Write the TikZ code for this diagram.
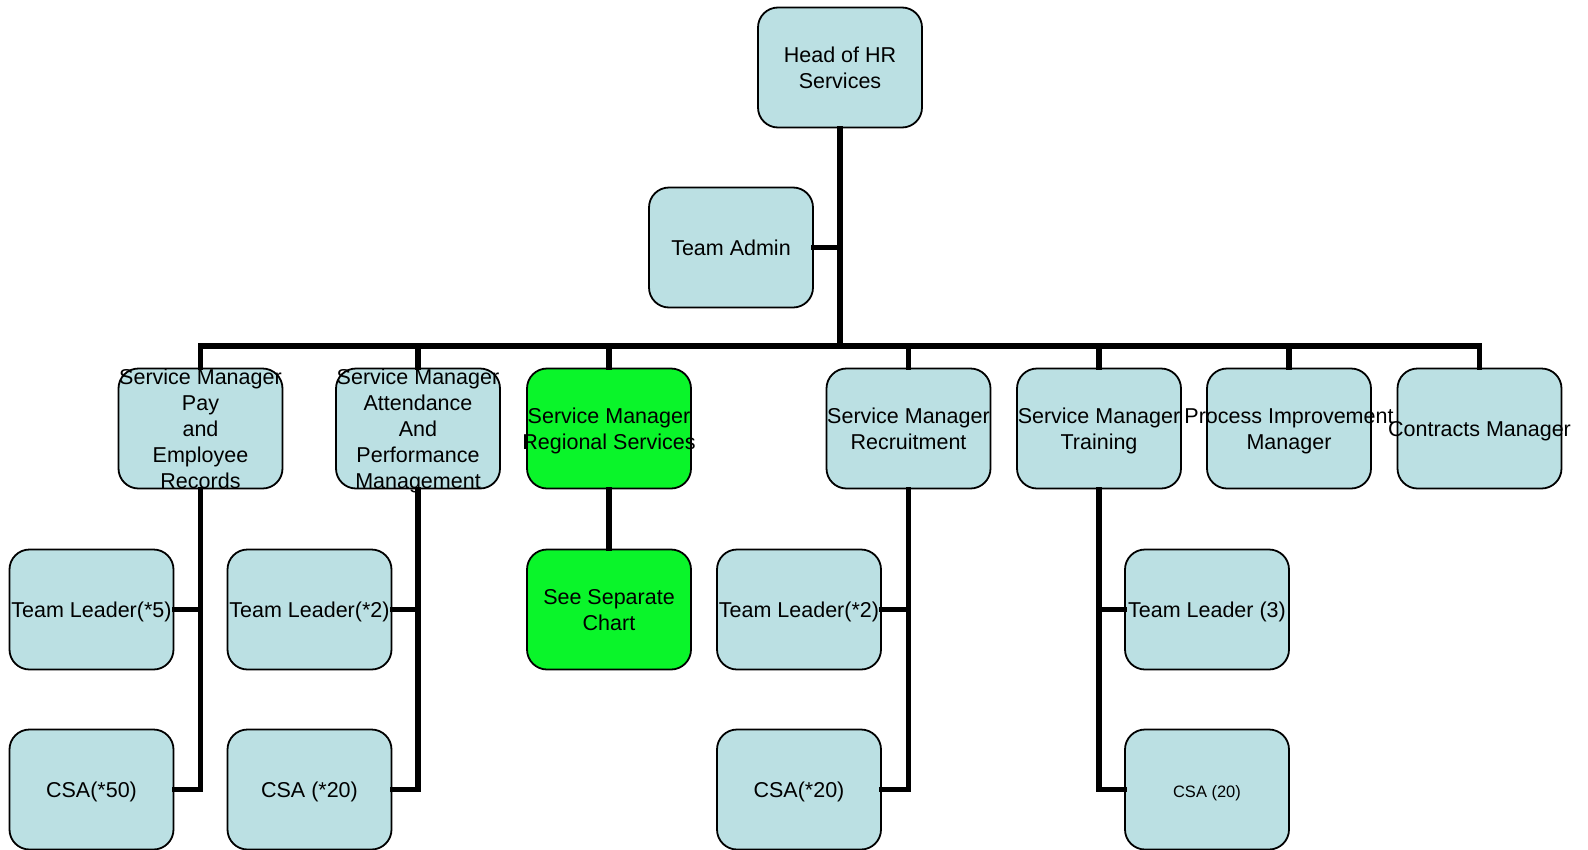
\documentclass[tikz,border=0pt]{standalone}
\usepackage{fontspec}
\setmainfont{Liberation Sans}
\definecolor{boxblue}{RGB}{187,224,227}
\definecolor{boxgreen}{RGB}{10,245,42}
\tikzset{
  orgbox/.style={draw=black, line width=1.8pt, fill=boxblue, rounded corners=20pt,
    minimum width=164pt, minimum height=120pt, inner sep=0pt},
  greenbox/.style={orgbox, fill=boxgreen},
  boxtext/.style={inner sep=0pt, yshift=-3.2pt, font=\fontsize{21.5}{26}\selectfont},
  smalltext/.style={boxtext, yshift=-0.8pt, font=\fontsize{16.5}{20}\selectfont},
  link/.style={draw=black, line width=5.5pt, line join=miter, line cap=rect}
}
% a fixed-size box whose centred lines may run past its border
\newcommand\orgnode[5][orgbox]{%
  \node[#1, label={[#2]center:{\begin{tabular}{@{}c@{}}#5\end{tabular}}}] (#3) at (#4) {};}
\begin{document}
\begin{tikzpicture}[x=1pt, y=-1pt]
\useasboundingbox (0,0) rectangle (1588,849);

% top of the hierarchy
\orgnode{boxtext}{head}{840,67.5}{Head of HR\\Services}
\orgnode{boxtext}{admin}{731,247.5}{Team Admin}

% service managers
\orgnode{boxtext}{pay}{200.5,428.5}{Service Manager\\Pay\\and\\Employee\\Records}
\orgnode{boxtext}{att}{418,428.5}{Service Manager\\Attendance\\And\\Performance\\Management}
\orgnode[greenbox]{boxtext}{reg}{609,428.5}{Service Manager\\Regional Services}
\orgnode{boxtext}{rec}{908.5,428.5}{Service Manager\\Recruitment}
\orgnode{boxtext}{trn}{1099,428.5}{Service Manager\\Training}
\orgnode{boxtext}{proc}{1289,428.5}{Process Improvement\\Manager}
\orgnode{boxtext}{con}{1479.5,428.5}{Contracts Manager}

% team leaders
\orgnode{boxtext}{tlpay}{91.5,609.5}{Team Leader(*5)}
\orgnode{boxtext}{tlatt}{309.5,609.5}{Team Leader(*2)}
\orgnode[greenbox]{boxtext}{sep}{609,609.5}{See Separate\\Chart}
\orgnode{boxtext}{tlrec}{799,609.5}{Team Leader(*2)}
\orgnode{boxtext}{tltrn}{1207,609.5}{Team Leader (3)}

% customer service advisors
\orgnode{boxtext}{csapay}{91.5,789.5}{CSA(*50)}
\orgnode{boxtext}{csaatt}{309.5,789.5}{CSA (*20)}
\orgnode{boxtext}{csarec}{799,789.5}{CSA(*20)}
\orgnode{smalltext}{csatrn}{1207,789.5}{CSA (20)}

% main bus
\coordinate (busL) at (200.5,346);
\coordinate (busR) at (1479.5,346);
\draw[link] (busL) -- (busR);
\draw[link] (head.south) -- (head.south |- busL);
\draw[link] (admin.east) -- (admin.east -| head.south);
\foreach \n in {pay,att,reg,rec,trn,proc,con}
  \draw[link] (\n.north) -- (\n.north |- busL);

% branches below the managers
\draw[link] (pay.south) -- (pay.south |- csapay.east) -- (csapay.east);
\draw[link] (tlpay.east) -- (tlpay.east -| pay.south);
\draw[link] (att.south) -- (att.south |- csaatt.east) -- (csaatt.east);
\draw[link] (tlatt.east) -- (tlatt.east -| att.south);
\draw[link] (reg.south) -- (sep.north);
\draw[link] (rec.south) -- (rec.south |- csarec.east) -- (csarec.east);
\draw[link] (tlrec.east) -- (tlrec.east -| rec.south);
\draw[link] (trn.south) -- (trn.south |- csatrn.west) -- (csatrn.west);
\draw[link] (tltrn.west) -- (tltrn.west -| trn.south);
\end{tikzpicture}
\end{document}
